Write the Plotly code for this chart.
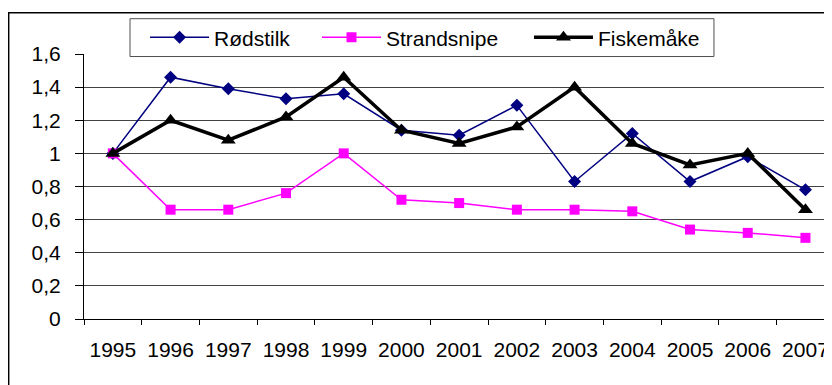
import plotly.graph_objects as go

years = ["1995", "1996", "1997", "1998", "1999", "2000", "2001",
         "2002", "2003", "2004", "2005", "2006", "2007"]
rodstilk = [1.00, 1.46, 1.39, 1.33, 1.36, 1.14, 1.11, 1.29, 0.83, 1.12, 0.83, 0.98, 0.78]
strandsnipe = [1.00, 0.66, 0.66, 0.76, 1.00, 0.72, 0.70, 0.66, 0.66, 0.65, 0.54, 0.52, 0.49]
fiskemake = [1.00, 1.20, 1.08, 1.22, 1.46, 1.14, 1.06, 1.16, 1.40, 1.06, 0.93, 1.00, 0.66]

ytick_vals = [0, 0.2, 0.4, 0.6, 0.8, 1.0, 1.2, 1.4, 1.6]
ytick_text = ["0", "0,2", "0,4", "0,6", "0,8", "1", "1,2", "1,4", "1,6"]

FONT = "Liberation Sans, Arial, sans-serif"
FS = 21

fig = go.Figure()
fig.add_trace(go.Scatter(
    x=years, y=rodstilk, name="Rødstilk", mode="lines+markers", legend="legend",
    line=dict(color="#000080", width=1.5),
    marker=dict(symbol="diamond", size=10, color="#000080"),
))
fig.add_trace(go.Scatter(
    x=years, y=strandsnipe, name="Strandsnipe", mode="lines+markers", legend="legend2",
    line=dict(color="#FF00FF", width=1.5),
    marker=dict(symbol="square", size=10, color="#FF00FF"),
))
fig.add_trace(go.Scatter(
    x=years, y=fiskemake, name="Fiskemåke", mode="lines+markers", legend="legend3",
    line=dict(color="#000000", width=3.5),
    marker=dict(symbol="triangle-up", size=13, color="#000000"),
))

def leg(xp):
    return dict(
        orientation="h", x=xp, y=1.0615, xanchor="left", yanchor="middle",
        bgcolor="rgba(0,0,0,0)", borderwidth=0,
        font=dict(family=FONT, size=FS, color="black"),
        itemwidth=59,
    )

fig.update_layout(
    width=824, height=377,
    margin=dict(l=76, r=0, t=46, b=66),
    paper_bgcolor="white", plot_bgcolor="white",
    font=dict(family=FONT, size=FS, color="black"),
    showlegend=True,
    legend=leg(0.0816),
    legend2=leg(0.3115),
    legend3=leg(0.5949),
    xaxis=dict(
        type="category", range=[-0.5, 12.46], automargin=False,
        showgrid=False, showline=True, linecolor="black", linewidth=1,
        ticks="outside", ticklen=5, tickcolor="black", tickson="boundaries",
        ticklabelstandoff=12,
    ),
    yaxis=dict(
        range=[0, 1.6], tickvals=ytick_vals, ticktext=ytick_text, automargin=False,
        showgrid=True, gridcolor="#444444", gridwidth=1,
        showline=True, linecolor="black", linewidth=1,
        ticks="outside", ticklen=8, tickcolor="black",
        zeroline=False, ticklabelstandoff=10,
    ),
    shapes=[
        dict(
            type="rect", xref="paper", yref="paper",
            x0=-0.1007, x1=1.05, y0=-0.35, y1=1.156,
            line=dict(color="black", width=1.5), fillcolor="rgba(0,0,0,0)",
        ),
        dict(
            type="rect", xref="paper", yref="paper", layer="above",
            x0=0.0615, x1=0.8422, y0=0.9905, y1=1.1332,
            line=dict(color="#505050", width=1), fillcolor="white",
        ),
    ],
)

fig.write_html("out.html")
